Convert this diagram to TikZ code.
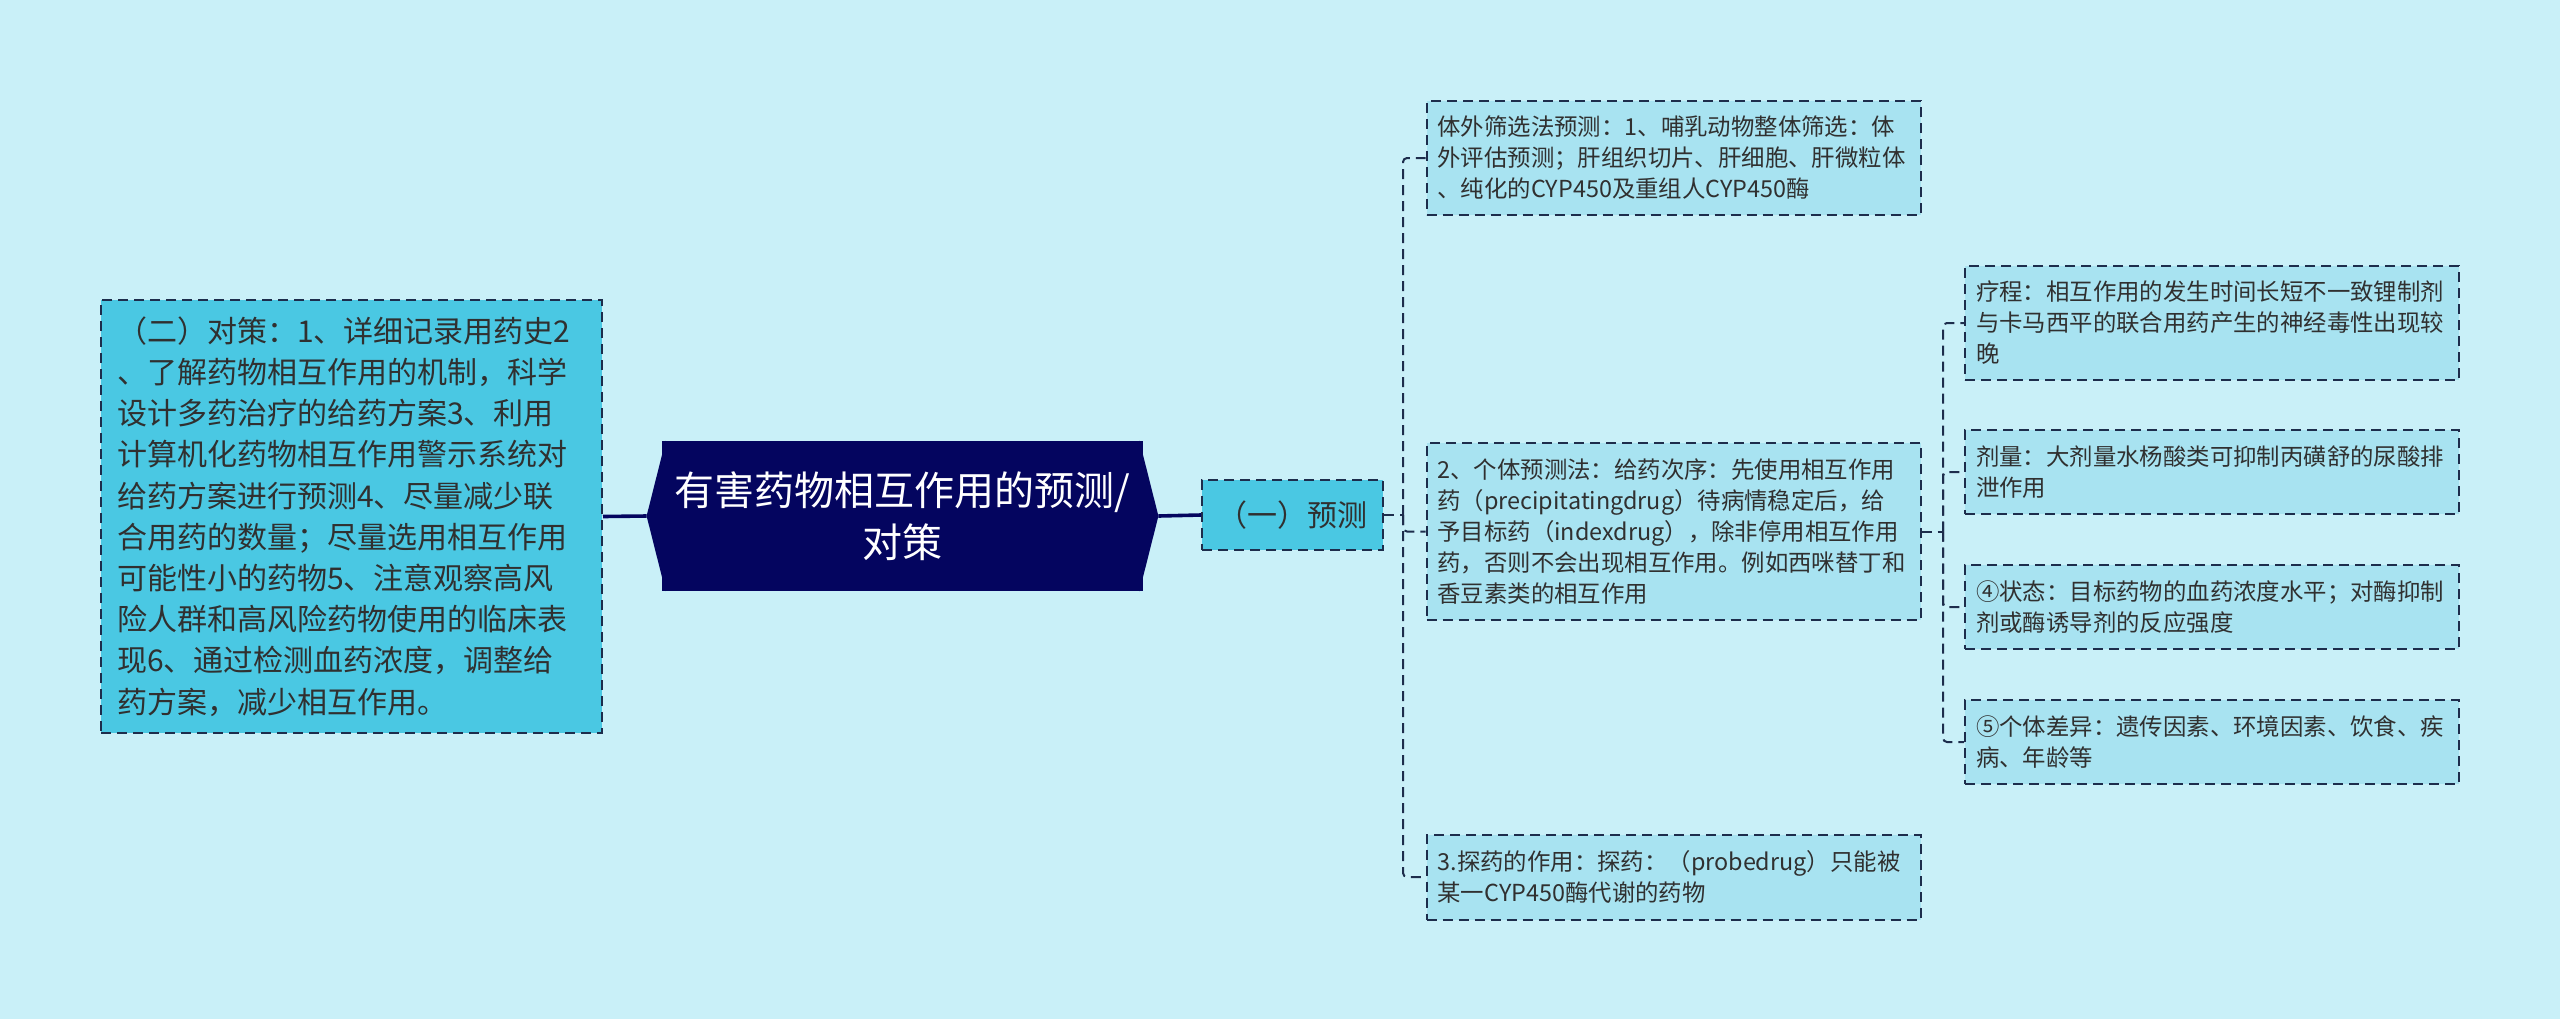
\documentclass[tikz,border=0pt]{standalone}
\usepackage{fontspec}
\setmainfont{Noto Sans CJK SC}

\definecolor{bgcol}{HTML}{C9F0F8}
\definecolor{deepcol}{HTML}{4AC8E3}
\definecolor{palecol}{HTML}{A8E3F1}
\definecolor{rootcol}{HTML}{04055F}
\definecolor{linecol}{HTML}{1D2D4C}
\definecolor{txtcol}{HTML}{303030}

\tikzset{
  dashbox/.style={draw=linecol, line width=1pt, dash pattern=on 5pt off 3pt, text=txtcol, align=left, inner ysep=0pt},
  leftbox/.style={dashbox, fill=deepcol, font={\fontsize{15}{20.6}\selectfont\hyphenpenalty10000 }, text width=234.5pt, inner xsep=8pt, minimum height=216.5pt},
  leafbox/.style={dashbox, fill=palecol, font={\fontsize{11.7}{15.5}\selectfont\hyphenpenalty10000 }, text width=236pt, inner xsep=5.5pt},
  rootbox/.style={fill=rootcol, text=white, align=center, font=\fontsize{20}{26}\selectfont, minimum width=240.5pt, minimum height=75pt, inner sep=1pt},
  midbox/.style={dashbox, fill=deepcol, align=center, font=\fontsize{15}{18}\selectfont, minimum width=90.5pt, minimum height=35pt},
  link/.style={draw=linecol, line width=1pt, dash pattern=on 5pt off 3pt, rounded corners=2pt},
  trunk/.style={draw=rootcol, line width=1.8pt}
}

\begin{document}
\begin{tikzpicture}[x=0.5pt, y=-0.5pt]
 \fill[bgcol] (0,0) rectangle (2560,1019);
 \useasboundingbox (0,0) rectangle (2560,1019);

 \node[rootbox] (root) at (902.5,516) {有害药物相互作用的预测/\\对策};
 % pointed ends, overlapping the box a little
 \fill[rootcol] ([xshift=2pt]root.north west) -- ([xshift=-7.5pt]root.west) -- ([xshift=2pt]root.south west) -- cycle;
 \fill[rootcol] ([xshift=-2pt]root.north east) -- ([xshift=7.5pt]root.east) -- ([xshift=-2pt]root.south east) -- cycle;

 \node[leftbox] (plan) at (351.5,516.5) {（二）对策：1、详细记录用药史2\\
   、了解药物相互作用的机制，科学\\
   设计多药治疗的给药方案3、利用\\
   计算机化药物相互作用警示系统对\\
   给药方案进行预测4、尽量减少联\\
   合用药的数量；尽量选用相互作用\\
   可能性小的药物5、注意观察高风\\
   险人群和高风险药物使用的临床表\\
   现6、通过检测血药浓度，调整给\\
   药方案，减少相互作用。};

 \node[midbox] (pred) at (1292.5,515) {（一）预测};

 \node[leafbox, minimum height=57pt] (vitro) at (1673.5,158) {体外筛选法预测：1、哺乳动物整体筛选：体\\
   外评估预测；肝组织切片、肝细胞、肝微粒体\\
   、纯化的CYP450及重组人CYP450酶};
 \node[leafbox, minimum height=88.5pt] (indiv) at (1673.5,531.5) {2、个体预测法：给药次序：先使用相互作用\\
   药（precipitatingdrug）待病情稳定后，给\\
   予目标药（indexdrug），除非停用相互作用\\
   药，否则不会出现相互作用。例如西咪替丁和\\
   香豆素类的相互作用};
 \node[leafbox, minimum height=42.5pt] (probe) at (1673.5,877) {3.探药的作用：探药：（probedrug）只能被\\
   某一CYP450酶代谢的药物};

 \node[leafbox, minimum height=57pt] (course) at (2212,323) {疗程：相互作用的发生时间长短不一致锂制剂\\
   与卡马西平的联合用药产生的神经毒性出现较\\
   晚};
 \node[leafbox, minimum height=42pt] (dose) at (2212,472) {剂量：大剂量水杨酸类可抑制丙磺舒的尿酸排\\
   泄作用};
 \node[leafbox, minimum height=42pt] (state) at (2212,607) {④状态：目标药物的血药浓度水平；对酶抑制\\
   剂或酶诱导剂的反应强度};
 \node[leafbox, minimum height=42pt] (diff) at (2212,742) {⑤个体差异：遗传因素、环境因素、饮食、疾\\
   病、年龄等};

 \coordinate (j1) at (1403,515);
 \coordinate (j2) at (1943,531.5);

 \draw[trunk] ([xshift=-7.5pt]root.west) -- (plan.east);
 \draw[trunk] ([xshift=7.5pt]root.east) -- (pred.west);

 \draw[link] (pred.east) -- (j1);
 \foreach \k in {vitro,indiv,probe}
   \draw[link] (j1) |- (\k.west);

 \draw[link] (indiv.east) -- (j2);
 \foreach \k in {course,dose,state,diff}
   \draw[link] (j2) |- (\k.west);
\end{tikzpicture}
\end{document}
